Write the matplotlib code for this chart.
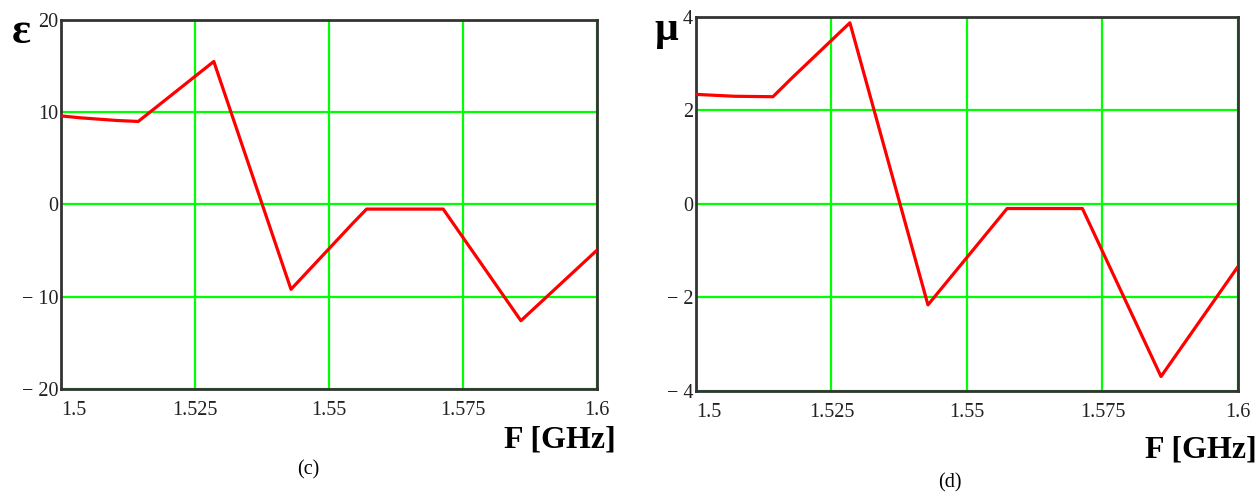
import matplotlib.pyplot as plt

# epsilon panel (c)
eps_f = [1.5, 1.5035, 1.5105, 1.5144, 1.5285, 1.5429, 1.5545, 1.5570, 1.5713, 1.5858, 1.6]
eps = [9.6, 9.4, 9.1, 9.0, 15.5, -9.2, -2.0, -0.5, -0.5, -12.6, -4.95]

# mu panel (d)
mu_f = [1.5, 1.507, 1.5142, 1.5177, 1.5284, 1.5428, 1.5574, 1.5713, 1.5858, 1.6]
mu = [2.34, 2.30, 2.29, 2.69, 3.87, -2.16, -0.10, -0.10, -3.69, -1.34]

x_ticks = [1.5, 1.525, 1.55, 1.575, 1.6]
x_labels = ["1.5", "1.525", "1.55", "1.575", "1.6"]
eps_ticks = [-20, -10, 0, 10, 20]
eps_labels = ["\u2212 20", "\u2212 10", "0", "10", "20"]
mu_ticks = [-4, -2, 0, 2, 4]
mu_labels = ["\u2212 4", "\u2212 2", "0", "2", "4"]

plt.rcParams['font.family'] = ['Liberation Serif', 'DejaVu Serif']

fig = plt.figure(figsize=(12.59, 4.93), dpi=100)
ax1 = fig.add_axes([0.0485, 0.2110, 0.4257, 0.7485])
ax2 = fig.add_axes([0.5528, 0.2069, 0.4305, 0.7592])

panels = [
    (ax1, eps_f, eps, eps_ticks, eps_labels, (-20, 20)),
    (ax2, mu_f, mu, mu_ticks, mu_labels, (-4, 4)),
]

for ax, f, v, yt, yl, ylim in panels:
    ax.plot(f, v, color='#ff0000', lw=2.3, zorder=3)
    ax.set_xlim(1.5, 1.6)
    ax.set_ylim(*ylim)
    ax.set_xticks(x_ticks)
    ax.set_xticklabels(x_labels, fontsize=14.5, color='#222222')
    ax.get_xticklabels()[0].set_ha('left')
    ax.set_yticks(yt)
    ax.set_yticklabels(yl, fontsize=14.5, color='#222222')
    ax.tick_params(axis='x', length=0, pad=9)
    ax.tick_params(axis='y', length=0, pad=2)
    ax.grid(True, color='#00ff00', lw=1.6, zorder=1)
    for s in ax.spines.values():
        s.set_color('#333333')
        s.set_linewidth(2)

fig.text(0.017, 0.935, "\u03b5", fontsize=32, fontweight='bold', ha='center', va='center')
fig.text(0.529, 0.94, "\u03bc", fontsize=30, fontweight='bold', ha='center', va='center')
fig.text(0.489, 0.108, "F [GHz]", fontsize=23, fontweight='bold', ha='right', va='center')
fig.text(0.998, 0.088, "F [GHz]", fontsize=23, fontweight='bold', ha='right', va='center')
fig.text(0.2445, 0.047, "(c)", fontsize=14.5, ha='center', va='center')
fig.text(0.7545, 0.020, "(d)", fontsize=14.5, ha='center', va='center')

fig.savefig("out.png", dpi=100)
